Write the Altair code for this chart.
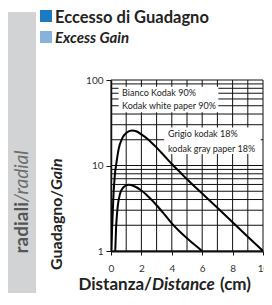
import altair as alt
import pandas as pd

# ---- data ----
white_x = [0.02, 0.08, 0.15, 0.26, 0.35, 0.5, 0.75, 1.0, 1.375, 1.7, 2.0, 2.5, 3.0, 3.5, 4.0, 4.5, 5.0, 6.0, 7.0, 8.0, 9.0, 10.0]
white_y = [1, 2, 4, 8, 10.5, 15.5, 21, 24, 25.7, 25, 23.1, 19.8, 16.2, 13, 10.4, 8.5, 6.9, 4.7, 3.2, 2.17, 1.47, 1.0]
gray_x = [0.28, 0.33, 0.38, 0.44, 0.6, 0.8, 1.0, 1.17, 1.5, 2.0, 2.5, 3.0, 3.5, 4.0, 4.5, 5.0, 5.5, 6.0]
gray_y = [1, 1.8, 2.5, 3.3, 4.7, 5.5, 5.85, 5.95, 5.75, 5.1, 4.25, 3.43, 2.7, 2.1, 1.7, 1.41, 1.18, 1.0]

x_ticks = [0, 2, 4, 6, 8, 10]
y_ticks = [1, 10, 100]
x_grid = [0, 1, 2, 3, 4, 5, 6, 7, 8, 9, 10]
y_grid = [1, 2, 3, 4, 5, 6, 7, 8, 9, 10, 20, 30, 40, 50, 60, 70, 80, 90, 100]

label_lines = ["Bianco Kodak 90%", "Kodak white paper 90%", "Grigio kodak 18%", "kodak gray paper 18%"]
label_x = [0.73, 0.73, 3.75, 3.75]
label_y = [70.2, 49.1, 23.1, 15.8]
box_x = [0.5, 3.5]
box_x2 = [7.06, 9.85]
box_y = [83.6, 27.9]
box_y2 = [41.9, 13.6]

FONT = "Lato"

curves = pd.concat([
    pd.DataFrame({"x": white_x, "y": white_y, "s": "white"}),
    pd.DataFrame({"x": gray_x, "y": gray_y, "s": "gray"}),
])
one = pd.DataFrame({"a": [0]})

xs = alt.Scale(domain=[0, 10], nice=False, zero=False)
ys = alt.Scale(type="log", domain=[1, 100], nice=False)
xa = alt.Axis(values=x_ticks, title=None, grid=False, domain=True, domainColor="#111", domainWidth=2,
              tickSize=4, tickColor="#111", labelPadding=8, labelFontSize=10,
              labelColor="#333", labelFont=FONT, labelFlush=False, labelOverlap=False)
ya = alt.Axis(values=y_ticks, title=None, grid=False, domain=True, domainColor="#111", domainWidth=1.5,
              tickSize=5, tickColor="#111", labelPadding=3, labelFontSize=10,
              labelColor="#333", labelFont=FONT, format="d")

band = alt.Chart(one).mark_rect(color="#d1d3d4").encode(
    x=alt.value(-103), x2=alt.value(-75), y=alt.value(-68), y2=alt.value(213))

vgrid = alt.Chart(pd.DataFrame({"g": x_grid})).mark_rule(color="#111", strokeWidth=1).encode(
    x=alt.X("g:Q", scale=xs, axis=xa))
hgrid = alt.Chart(pd.DataFrame({"g": y_grid})).mark_rule(color="#111", strokeWidth=1).encode(
    y=alt.Y("g:Q", scale=ys, axis=ya))

boxes = alt.Chart(pd.DataFrame({"x": box_x, "x2": box_x2, "y": box_y, "y2": box_y2})).mark_rect(color="white").encode(
    x=alt.X("x:Q", scale=xs, axis=xa), x2="x2:Q",
    y=alt.Y("y:Q", scale=ys, axis=ya), y2="y2:Q")

lines = alt.Chart(curves).mark_line(color="black", strokeWidth=2, interpolate="monotone", clip=True).encode(
    x=alt.X("x:Q", scale=xs, axis=xa),
    y=alt.Y("y:Q", scale=ys, axis=ya),
    detail="s:N")

labels = alt.Chart(pd.DataFrame({"x": label_x, "y": label_y, "t": label_lines})).mark_text(
    align="left", baseline="middle", fontSize=9, font=FONT, color="#222").encode(
    x=alt.X("x:Q", scale=xs, axis=xa), y=alt.Y("y:Q", scale=ys, axis=ya), text="t:N")


def ptext(txt, x, y, **kw):
    return alt.Chart(one).mark_text(font=FONT, **kw).encode(
        x=alt.value(x), y=alt.value(y), text=alt.value(txt))


def prect(x, x2, y, y2, color):
    return alt.Chart(one).mark_rect(color=color).encode(
        x=alt.value(x), x2=alt.value(x2), y=alt.value(y), y2=alt.value(y2))


title_parts = [
    prect(-71, -59, -70, -58, "#1b7bc0"),
    ptext("Eccesso di Guadagno", -56, -57, align="left", baseline="alphabetic", fontSize=16.5, fontWeight="bold", color="#222"),
    prect(-71, -59, -49, -37, "#86b2dc"),
    ptext("Excess Gain", -56, -37, align="left", baseline="alphabetic", fontSize=15, fontWeight="bold", fontStyle="italic", color="#222"),
    ptext("radiali", -89, 122, angle=270, align="right", baseline="middle", fontSize=19, fontWeight="bold", color="#555"),
    ptext("/radial", -89, 122, angle=270, align="left", baseline="middle", fontSize=19, fontStyle="italic", color="#6d6d6d"),
    ptext("Guadagno/", -54, 110, angle=270, align="right", baseline="middle", fontSize=16, fontWeight="bold", color="#222"),
    ptext("Gain", -54, 110, angle=270, align="left", baseline="middle", fontSize=16, fontWeight="bold", fontStyle="italic", color="#222"),
    ptext("Distanza/", 41, 210, align="right", baseline="alphabetic", fontSize=17, fontWeight="bold", color="#222"),
    ptext("Distance", 41, 210, align="left", baseline="alphabetic", fontSize=17, fontWeight="bold", fontStyle="italic", color="#222"),
    ptext("(cm)", 109, 210, align="left", baseline="alphabetic", fontSize=17, fontWeight="bold", color="#222"),
]

chart = alt.layer(band, vgrid, hgrid, boxes, lines, labels, *title_parts).properties(
    width=152, height=171,
    autosize=alt.AutoSizeParams(type="none"),
    padding={"left": 103, "top": 72, "right": 1, "bottom": 42},
).configure_view(stroke=None)

chart.save("out.html", embed_options={"renderer": "svg", "actions": False})
